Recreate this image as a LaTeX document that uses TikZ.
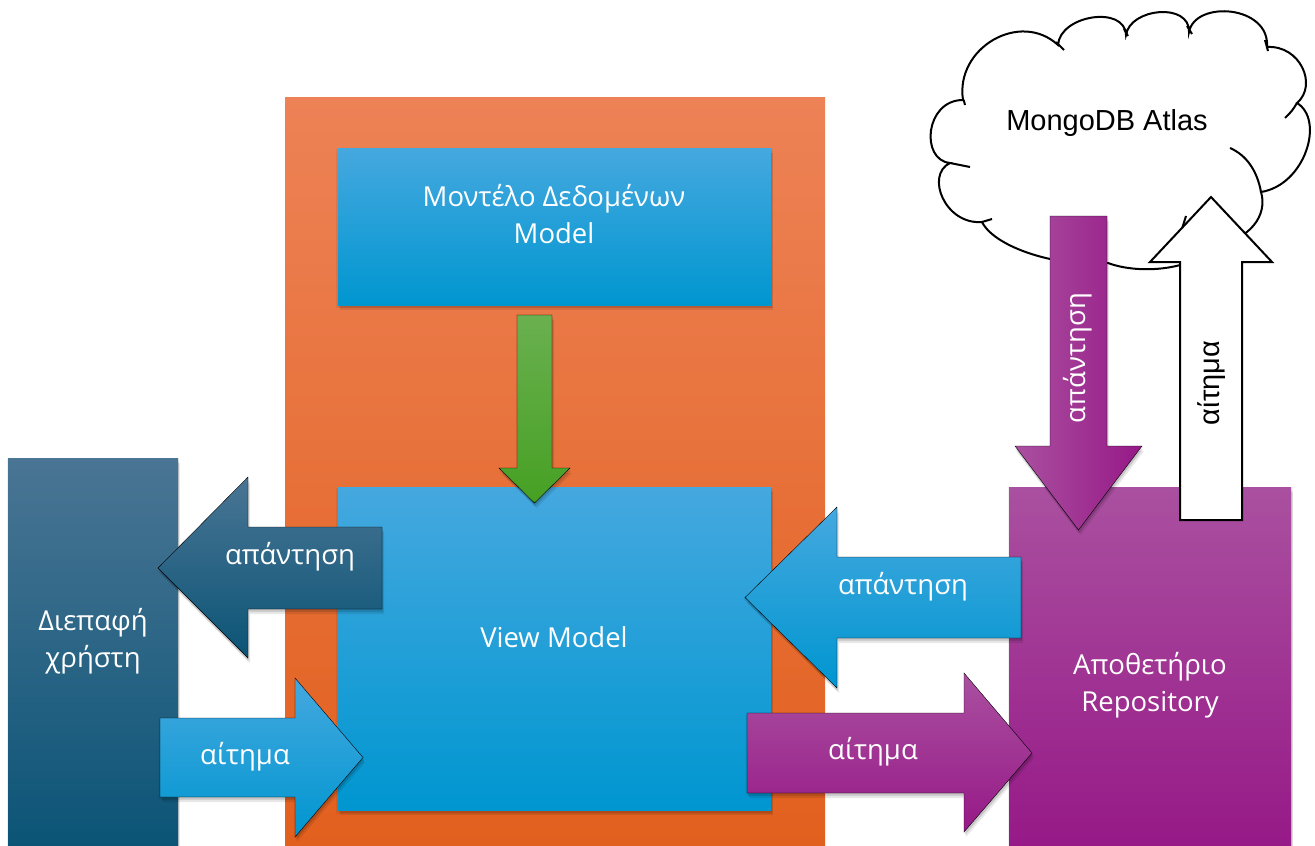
\documentclass[tikz,border=0pt]{standalone}
\usepackage{graphicx}
\usepackage{fontspec}
\setmainfont{Open Sans}
\newfontfamily\arialfont{Liberation Sans}
\usetikzlibrary{shadows}

\definecolor{orangeTop}{HTML}{ED8256}
\definecolor{orangeBot}{HTML}{E2601E}
\definecolor{blueTop}{HTML}{45A8DF}
\definecolor{blueBot}{HTML}{0096D0}
\definecolor{navyTop}{HTML}{4A7594}
\definecolor{navyBot}{HTML}{0B5476}
\definecolor{plumTop}{HTML}{AA50A0}
\definecolor{plumBot}{HTML}{961987}
\definecolor{greenTop}{HTML}{6AB050}
\definecolor{greenBot}{HTML}{46A023}

\begin{document}
\begin{tikzpicture}[x=1pt,y=-1pt,
  softshadow/.style={
    general shadow={fill=black,opacity=.06,shadow xshift=0pt,shadow yshift=-2pt,shadow scale=1.01},
    general shadow={fill=black,opacity=.09,shadow xshift=1pt,shadow yshift=-3pt},
    general shadow={fill=black,opacity=.09,shadow xshift=2pt,shadow yshift=-5pt}},
  block/.style={inner sep=0pt,anchor=north west,draw=none},
  bluegrad/.style={top color=blueTop,bottom color=blueBot},
  navygrad/.style={top color=navyTop,bottom color=navyBot},
  plumgrad/.style={top color=plumTop,bottom color=plumBot},
  lbl/.style={text=white,font=\fontsize{27.5}{37}\selectfont,align=center,inner sep=0pt},
  dark/.style={text=black,font=\arialfont\fontsize{29}{34}\selectfont,inner sep=0pt},
  outline/.style={draw=black,line width=2pt,line join=miter},
  curl/.style={draw=black,line width=2pt,line cap=butt}
]
\useasboundingbox (0,0) rectangle (1315,846);

% container of the app layer
\node[block,minimum width=540pt,minimum height=749pt,
      top color=orangeTop,bottom color=orangeBot] (app) at (285,97) {};

% data model
\node[block,softshadow,bluegrad,minimum width=433pt,minimum height=157pt] (model) at (338,148) {};
\node[lbl] (modeltxt) at (554,214) {Μοντέλο Δεδομένων\\Model};

% view model
\node[block,softshadow,bluegrad,minimum width=433pt,minimum height=323pt] (vm) at (338,487) {};
\node[lbl] (vmtxt) at (554,637) {View Model};

% model feeds the view model
\draw[softshadow,top color=greenTop,bottom color=greenBot]
  (517,315) -- (552,315) -- (552,468) -- (570,468) -- (534.5,503)
  -- (499,468) -- (517,468) -- cycle;

% user interface
\node[block,softshadow,navygrad,minimum width=170pt,minimum height=390pt] (ui) at (8,458) {};
\node[lbl] (uitxt) at (93,641) {Διεπαφή\\χρήστη};

% view model -> UI response
\draw[softshadow,navygrad]
  (382,527) -- (248,527) -- (248,477) -- (158,568) -- (248,658)
  -- (248,609) -- (382,609) -- cycle;
\node[lbl] (uiresp) at (290,557) {απάντηση};

% UI -> view model request
\draw[softshadow,bluegrad]
  (160,718) -- (295,718) -- (295,678) -- (363,757.5) -- (295,837)
  -- (295,797) -- (160,797) -- cycle;
\node[lbl] (uireq) at (245,757) {αίτημα};

% repository
\node[block,softshadow,plumgrad,minimum width=282pt,minimum height=360pt] (repo) at (1009,487) {};
\node[lbl] (repotxt) at (1150,685) {Αποθετήριο\\Repository};

% cloud database: outline of puffs
\draw[outline,fill=white]
  (963,100) .. controls (955,48) and (1020,10) .. (1058,45)
  .. controls (1060,15) and (1125,5) .. (1126,35)
  .. controls (1130,8) and (1190,2) .. (1189,32)
  .. controls (1195,0) and (1270,5) .. (1267,47)
  .. controls (1300,45) and (1318,85) .. (1297,103)
  .. controls (1325,120) and (1305,185) .. (1261,192)
  .. controls (1268,215) and (1250,240) .. (1215,245)
  .. controls (1195,270) and (1140,275) .. (1108,263)
  .. controls (1060,268) and (995,248) .. (982,222)
  .. controls (945,225) and (925,175) .. (950,163)
  .. controls (920,160) and (925,100) .. (963,100) -- cycle;
% inner curls of the cloud
\draw[curl] (963,99) .. controls (964,101) .. (965,105);
\draw[curl] (1056,42) -- (1064,50);
\draw[curl] (1124,29) -- (1128,36);
\draw[curl] (1187,26) -- (1192,34);
\draw[curl] (1265,40) -- (1268,51);
\draw[curl] (1297,103) .. controls (1292,111) .. (1285,118);
\draw[curl] (1261,192) .. controls (1257,170) and (1246,155) .. (1230,148);
\draw[curl] (1186,216) -- (1181,232);
\draw[curl] (982,222) -- (992,219);
\draw[curl] (950,163) -- (970,167);
\node[dark] (cloudtxt) at (1107,123) {MongoDB Atlas};

% cloud -> repository response
\draw[softshadow,left color=plumTop,right color=plumBot]
  (1050,216) -- (1107,216) -- (1107,446) -- (1142,446) -- (1078.5,530)
  -- (1015,446) -- (1050,446) -- cycle;

% repository -> cloud request
\draw[outline,fill=white]
  (1180,520) -- (1180,262) -- (1150,262) -- (1211,197) -- (1272,262)
  -- (1242,262) -- (1242,520) -- cycle;

% vertical labels, turned a quarter counter-clockwise (read bottom to top)
\node[lbl] (dbresp) at (1078,358) {\rotatebox{90}{απάντηση}};
\node[dark] (dbreq) at (1212,383) {\rotatebox{90}{αίτημα}};

% repository -> view model response
\draw[softshadow,bluegrad]
  (1021,557) -- (837,557) -- (837,507) -- (745,597.5) -- (837,688)
  -- (837,638) -- (1021,638) -- cycle;
\node[lbl] (vmresp) at (903,587) {απάντηση};

% view model -> repository request
\draw[softshadow,plumgrad]
  (747,713) -- (964,713) -- (964,673) -- (1032,753) -- (964,832)
  -- (964,793) -- (747,793) -- cycle;
\node[lbl] (vmreq) at (873,752) {αίτημα};
\end{tikzpicture}
\end{document}
